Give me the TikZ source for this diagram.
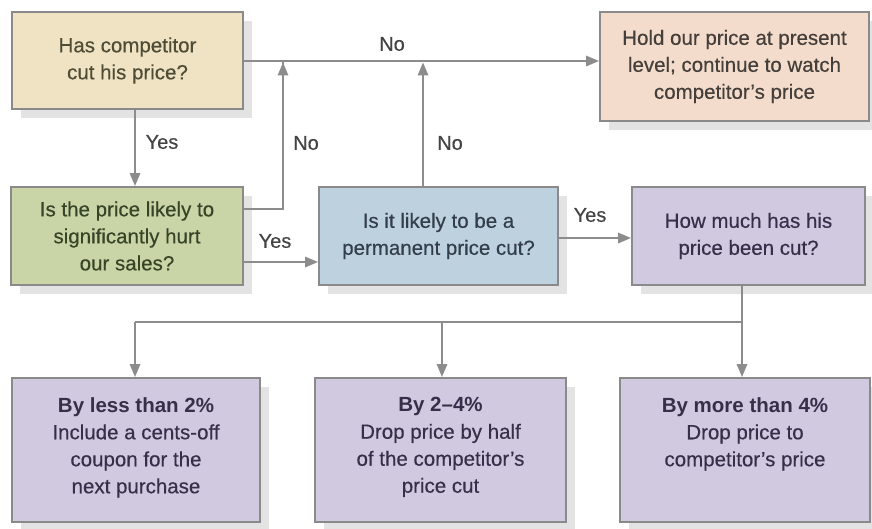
\documentclass[tikz,border=0pt]{standalone}
\usepackage{fontspec}
\setmainfont{Liberation Sans}[UprightFeatures={FakeBold=0.35}]
\usetikzlibrary{arrows.meta,shadows,calc}
\definecolor{tanfill}{HTML}{EFE3C4}
\definecolor{tantext}{HTML}{4F4C36}
\definecolor{peachfill}{HTML}{F3DCCB}
\definecolor{peachtext}{HTML}{443F3A}
\definecolor{greenfill}{HTML}{C9D5A6}
\definecolor{greentext}{HTML}{384427}
\definecolor{bluefill}{HTML}{BDD1DF}
\definecolor{bluetext}{HTML}{343E4B}
\definecolor{purpfill}{HTML}{D1C9E0}
\definecolor{purptext}{HTML}{352F4A}
\definecolor{edgegray}{HTML}{8A8A8A}
\definecolor{linegray}{HTML}{8C8C8C}
\definecolor{labeltext}{HTML}{444444}
\begin{document}
\begin{tikzpicture}[x=1pt,y=-1pt,
  boxstyle/.style={draw=edgegray, line width=1.6pt, rectangle, align=center,
    font=\fontsize{20.5}{27}\selectfont,
    drop shadow={shadow xshift=9pt, shadow yshift=-9pt, fill=black!11, opacity=1}},
  txtstyle/.style={align=center, font=\fontsize{20.5}{27}\selectfont, text=purptext, inner sep=0pt},
  conn/.style={draw=linegray, line width=2.6pt},
  arr/.style={conn, -{Triangle[length=13pt,width=10pt]}},
  lbl/.style={text=labeltext, font=\fontsize{20}{24}\selectfont, inner sep=0pt}]
\useasboundingbox (0,0) rectangle (872,528);
\fill[white] (0,0) rectangle (872,528);
% boxes
\node[boxstyle, fill=tanfill, text=tantext, minimum width=231pt, minimum height=97pt] (q1) at (127.5,60.5) {Has competitor\\cut his price?};
\node[boxstyle, fill=peachfill, text=peachtext, minimum width=269pt, minimum height=109pt] (hold) at (734.5,66.5) {Hold our price at present\\level; continue to watch\\competitor's price};
\node[boxstyle, fill=greenfill, text=greentext, minimum width=232pt, minimum height=98pt] (q2) at (127,236) {Is the price likely to\\significantly hurt\\our sales?};
\node[boxstyle, fill=bluefill, text=bluetext, minimum width=239pt, minimum height=98pt] (q3) at (438.5,236) {Is it likely to be a\\permanent price cut?};
\node[boxstyle, fill=purpfill, text=purptext, minimum width=233pt, minimum height=98pt] (q4) at (748.5,236) {How much has his\\price been cut?};
\node[boxstyle, fill=purpfill, minimum width=248pt, minimum height=144pt] (r1) at (136,450) {};
\node[boxstyle, fill=purpfill, minimum width=251pt, minimum height=144pt] (r2) at (440.5,450) {};
\node[boxstyle, fill=purpfill, minimum width=250pt, minimum height=144pt] (r3) at (745,450) {};
\node[txtstyle, anchor=north] (t1) at ($(r1.north)+(0,20)$) {\textbf{By less than 2\%}\\Include a cents-off\\coupon for the\\next purchase};
\node[txtstyle, anchor=north] (t2) at ($(r2.north)+(0,20)$) {\textbf{By 2–4\%}\\Drop price by half\\of the competitor's\\price cut};
\node[txtstyle, anchor=north] (t3) at ($(r3.north)+(0,20)$) {\textbf{By more than 4\%}\\Drop price to\\competitor's price};
% connector points
\coordinate (top1) at (283,61);
\coordinate (top2) at (423,61);
\coordinate (q2a) at (243,209);
\coordinate (q2b) at (243,262);
\coordinate (q3r) at (558,238);
\coordinate (split) at (742,322);
\coordinate (left) at (135,322);
\coordinate (mid) at (442,322);
% connectors
\draw[arr] (q1.east |- top1) -- (top1 -| hold.west);
\draw[arr] (q1.south -| 135,0) -- (q2.north -| 135,0);
\draw[conn] (q2a) -- (283,209) -- ($(top1)+(0,1.3)$);
\draw[arr] (283,209) -- ($(top1)+(0,1.3)$);
\draw[arr] (q2b) -- (q2b -| q3.west);
\draw[arr] (q3.north -| top2) -- ($(top2)+(0,1.3)$);
\draw[arr] (q3r) -- (q3r -| q4.west);
\draw[conn] (q4.south -| split) -- (split) -- (left);
\draw[arr] (left) -- (left |- r1.north);
\draw[arr] (mid) -- (mid |- r2.north);
\draw[arr] (split) -- (split |- r3.north);
% labels
\node[lbl] (l1) at (392,44) {No};
\node[lbl] (l2) at (162,142) {Yes};
\node[lbl] (l3) at (306,143) {No};
\node[lbl] (l4) at (275,241) {Yes};
\node[lbl] (l5) at (450,143) {No};
\node[lbl] (l6) at (590,215) {Yes};
\end{tikzpicture}
\end{document}
